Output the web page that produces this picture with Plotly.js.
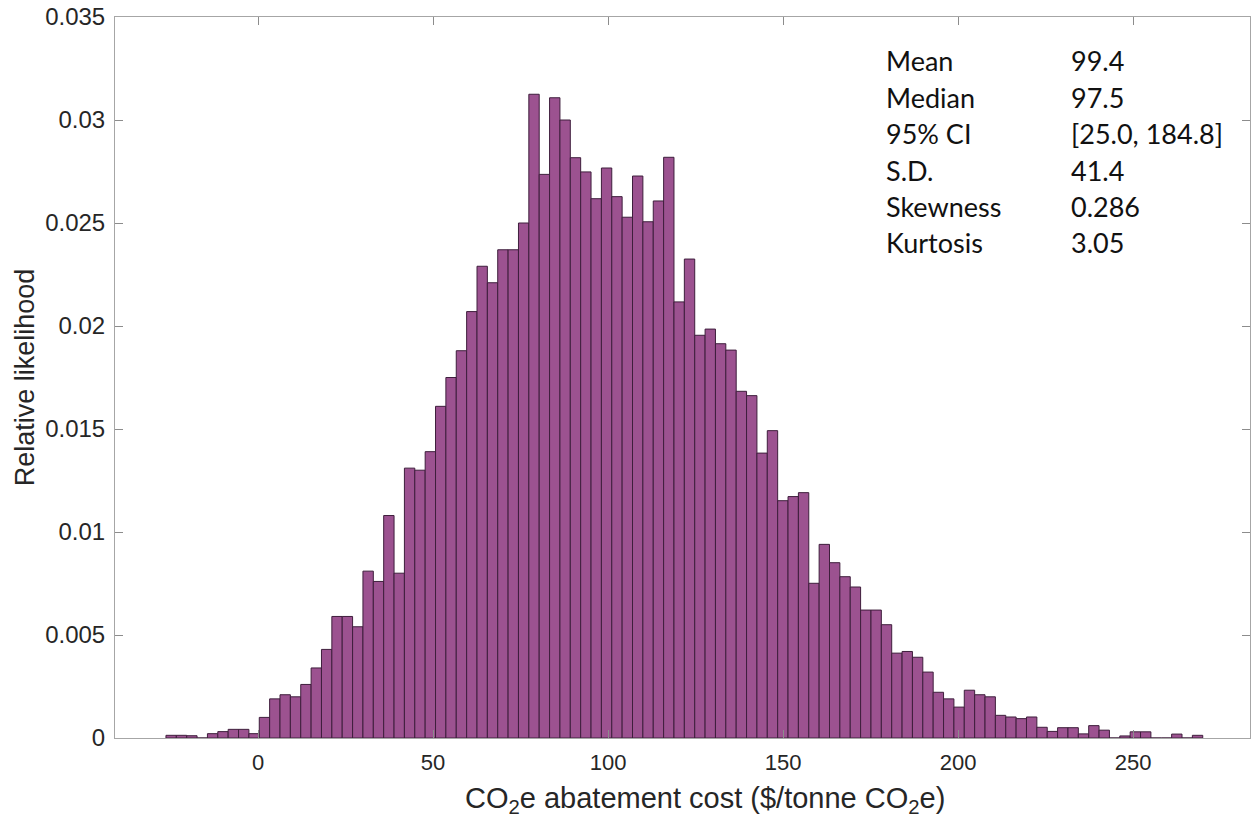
<!DOCTYPE html>
<html>
<head>
<meta charset="utf-8">
<script src="https://cdn.plot.ly/plotly-3.0.1.min.js"></script>
<style>
  html, body { margin: 0; padding: 0; background: #ffffff; }
  #chart { width: 1253px; height: 818px; }
</style>
</head>
<body>
<div id="chart"></div>
<script>
// Histogram bins: first bin centre and bin width (x units)
const binFirstCenter = -24.82;
const binWidth = 2.962;

// Relative likelihood per bin (left to right)
const likelihood = [
  0.00013, 0.00013, 0.00011, 0, 0.00021, 0.00031, 0.00042, 0.00042, 0.00021, 0.00100,
  0.00190, 0.00210, 0.00200, 0.00260, 0.00340, 0.00430, 0.00590, 0.00590, 0.00540, 0.00810,
  0.00760, 0.01080, 0.00800, 0.01310, 0.01300, 0.01390, 0.01610, 0.01750, 0.01880, 0.02070,
  0.02290, 0.02210, 0.02370, 0.02370, 0.02500, 0.03125, 0.02736, 0.03108, 0.03000, 0.02817,
  0.02748, 0.02618, 0.02767, 0.02628, 0.02528, 0.02728, 0.02506, 0.02607, 0.02819, 0.02117,
  0.02325, 0.01955, 0.01985, 0.01914, 0.01883, 0.01683, 0.01662, 0.01383, 0.01492, 0.01152,
  0.01172, 0.01191, 0.00751, 0.00940, 0.00851, 0.00783, 0.00733, 0.00621, 0.00621, 0.00550,
  0.00412, 0.00420, 0.00392, 0.00320, 0.00222, 0.00190, 0.00150, 0.00232, 0.00210, 0.00200,
  0.00110, 0.00102, 0.00094, 0.00102, 0.00052, 0.00032, 0.00050, 0.00050, 0.00020, 0.00060,
  0.00038, 0, 0.00010, 0.00030, 0.00030, 0, 0, 0.00019, 0, 0.00013
];

// Axis ticks and titles
const xTicks = [0, 50, 100, 150, 200, 250];
const yTicks = [0, 0.005, 0.01, 0.015, 0.02, 0.025, 0.03, 0.035];
const yTickLabels = ["0", "0.005", "0.01", "0.015", "0.02", "0.025", "0.03", "0.035"];
const xTitle = "CO<sub>2</sub>e abatement cost ($/tonne CO<sub>2</sub>e)";
const yTitle = "Relative likelihood";

// Summary statistics box
const statNames = ["Mean", "Median", "95% CI", "S.D.", "Skewness", "Kurtosis"];
const statValues = ["99.4", "97.5", "[25.0, 184.8]", "41.4", "0.286", "3.05"];

const trace = {
  type: "bar",
  x0: binFirstCenter,
  dx: binWidth,
  y: likelihood,
  width: binWidth,
  marker: {
    color: "rgb(156,82,144)",
    line: { color: "rgb(62,30,60)", width: 1 }
  },
  hoverinfo: "x+y",
  showlegend: false
};

const sansFont = "'Liberation Sans', Arial, Helvetica, sans-serif";
const annotations = [];
const statFont = { family: "Lato, 'Open Sans', sans-serif", size: 27, color: "#111111" };
statNames.forEach((name, i) => {
  const yp = (738 - (61 + 36.4 * i)) / 721;
  annotations.push({
    xref: "paper", yref: "paper", x: 0.6775, y: yp,
    xanchor: "left", yanchor: "middle", showarrow: false,
    text: name, font: statFont
  });
  annotations.push({
    xref: "paper", yref: "paper", x: 0.8405, y: yp,
    xanchor: "left", yanchor: "middle", showarrow: false,
    text: statValues[i], font: statFont
  });
});

// axis titles as annotations so they can sit exactly where the reference puts them
annotations.push({
  xref: "paper", yref: "paper", x: 0.5198, y: -0.0865,
  xanchor: "center", yanchor: "middle", showarrow: false,
  text: xTitle, font: { family: sansFont, size: 29, color: "#262626" }
});
annotations.push({
  xref: "paper", yref: "paper", x: -0.0795, y: 0.5,
  xanchor: "center", yanchor: "middle", showarrow: false, textangle: -90,
  text: yTitle, font: { family: sansFont, size: 27, color: "#262626" }
});

const axisCommon = {
  showline: true,
  linecolor: "#a6a6a6",
  linewidth: 1,
  mirror: "ticks",
  ticks: "inside",
  ticklen: 8,
  tickcolor: "#8c8c8c",
  tickwidth: 1,
  showgrid: false,
  zeroline: false
};

const layout = {
  width: 1253,
  height: 818,
  margin: { l: 115, r: 3, t: 17, b: 80 },
  paper_bgcolor: "#ffffff",
  plot_bgcolor: "#ffffff",
  bargap: 0,
  xaxis: Object.assign({}, axisCommon, {
    range: [-40.86, 283.4],
    tickmode: "array",
    tickvals: xTicks,
    ticktext: xTicks.map(String),
    ticklabelstandoff: 5,
    tickfont: { family: sansFont, size: 22, color: "#262626" }
  }),
  yaxis: Object.assign({}, axisCommon, {
    range: [0, 0.035],
    tickmode: "array",
    tickvals: yTicks,
    ticktext: yTickLabels,
    ticklabelstandoff: 4,
    tickfont: { family: sansFont, size: 24, color: "#262626" }
  }),
  annotations: annotations
};

Plotly.newPlot("chart", [trace], layout, { displayModeBar: false, staticPlot: true });
</script>
</body>
</html>
